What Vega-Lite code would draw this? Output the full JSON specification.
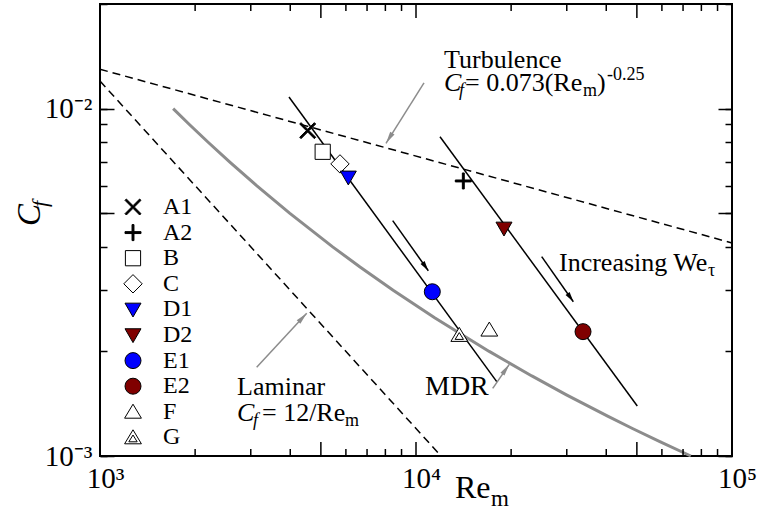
{
  "$schema": "https://vega.github.io/schema/vega-lite/v6.json",
  "width": 632,
  "height": 452,
  "autosize": "none",
  "padding": {"left": 100, "top": 4, "right": 30, "bottom": 61},
  "background": "white",
  "config": {
    "view": {"stroke": "black", "strokeWidth": 2},
    "font": "Liberation Serif"
  },
  "datasets": {
    "pts": [
      {"id": "A1", "Re": 4542, "Cf": 0.00864},
      {"id": "A2", "Re": 14116, "Cf": 0.00619},
      {"id": "B", "Re": 5067, "Cf": 0.00751},
      {"id": "C", "Re": 5747, "Cf": 0.00693},
      {"id": "D1", "Re": 6107, "Cf": 0.00634},
      {"id": "D2", "Re": 18988, "Cf": 0.00452},
      {"id": "E1", "Re": 11262, "Cf": 0.00297},
      {"id": "E2", "Re": 33770, "Cf": 0.00228},
      {"id": "F", "Re": 17060, "Cf": 0.00231},
      {"id": "G", "Re": 13709, "Cf": 0.00223}
    ],
    "ref": [
      {"curve": "turb", "Re": 1000, "Cf": 0.01298},
      {"curve": "turb", "Re": 100000, "Cf": 0.004105},
      {"curve": "lam", "Re": 1000, "Cf": 0.012},
      {"curve": "lam", "Re": 12000, "Cf": 0.001}
    ],
    "fits": [
      {"run": "1", "Re": 3963, "Cf": 0.0108},
      {"run": "1", "Re": 18008, "Cf": 0.001637},
      {"run": "2", "Re": 11911, "Cf": 0.008298},
      {"run": "2", "Re": 50150, "Cf": 0.001393}
    ],
    "mdr": [
      {"Re": 1704, "Cf": 0.01}, {"Re": 1918, "Cf": 0.009}, {"Re": 2199, "Cf": 0.008},
      {"Re": 2581, "Cf": 0.007}, {"Re": 3131, "Cf": 0.006}, {"Re": 3981, "Cf": 0.005},
      {"Re": 5449, "Cf": 0.004}, {"Re": 6651, "Cf": 0.0035}, {"Re": 8466, "Cf": 0.003},
      {"Re": 11455, "Cf": 0.0025}, {"Re": 17048, "Cf": 0.002}, {"Re": 23256, "Cf": 0.0017},
      {"Re": 29928, "Cf": 0.0015}, {"Re": 40554, "Cf": 0.0013}, {"Re": 48417, "Cf": 0.0012},
      {"Re": 59102, "Cf": 0.0011}, {"Re": 74070, "Cf": 0.001}
    ],
    "xticks": [
      {"Re": 1000, "kind": "major"}, {"Re": 2000, "kind": "minor"}, {"Re": 3000, "kind": "minor"},
      {"Re": 4000, "kind": "minor"}, {"Re": 5000, "kind": "major"}, {"Re": 6000, "kind": "minor"},
      {"Re": 7000, "kind": "minor"}, {"Re": 8000, "kind": "minor"}, {"Re": 9000, "kind": "minor"},
      {"Re": 10000, "kind": "major"}, {"Re": 20000, "kind": "minor"}, {"Re": 30000, "kind": "minor"},
      {"Re": 40000, "kind": "minor"}, {"Re": 50000, "kind": "major"}, {"Re": 60000, "kind": "minor"},
      {"Re": 70000, "kind": "minor"}, {"Re": 80000, "kind": "minor"}, {"Re": 90000, "kind": "minor"},
      {"Re": 100000, "kind": "major"}
    ],
    "arrows": [
      {"arrow": "inc1", "pt": "tail", "Re": 8438, "Cf": 0.004757},
      {"arrow": "inc1", "pt": "tip", "Re": 10939, "Cf": 0.003415},
      {"arrow": "inc2", "pt": "tail", "Re": 24990, "Cf": 0.003748},
      {"arrow": "inc2", "pt": "tip", "Re": 31470, "Cf": 0.00278},
      {"arrow": "turb", "pt": "tail", "Re": 10600, "Cf": 0.01185},
      {"arrow": "turb", "pt": "tip", "Re": 8036, "Cf": 0.007945},
      {"arrow": "lam", "pt": "tail", "Re": 3132, "Cf": 0.0018},
      {"arrow": "lam", "pt": "tip", "Re": 4510, "Cf": 0.002575},
      {"arrow": "mdr", "pt": "tail", "Re": 17488, "Cf": 0.001566},
      {"arrow": "mdr", "pt": "tip", "Re": 19740, "Cf": 0.001836}
    ],
    "text": [
      {"part": "main", "t": "Turbulence", "Re": 12264, "Cf": 0.01308},
      {"part": "it", "t": "C", "Re": 12264, "Cf": 0.011236},
      {"part": "itsub", "t": "f", "Re": 13680, "Cf": 0.01087},
      {"part": "main", "t": "= 0.073(Re", "Re": 14291, "Cf": 0.011236},
      {"part": "sub", "t": "m", "Re": 33770, "Cf": 0.01087},
      {"part": "main", "t": ")", "Re": 37390, "Cf": 0.011236},
      {"part": "sup", "t": "-0.25", "Re": 40220, "Cf": 0.01209},
      {"part": "main", "t": "Laminar", "Re": 2714, "Cf": 0.001498},
      {"part": "it", "t": "C", "Re": 2714, "Cf": 0.001261},
      {"part": "itsub", "t": "f", "Re": 3049, "Cf": 0.00122},
      {"part": "main", "t": "= 12/Re", "Re": 3255, "Cf": 0.001261},
      {"part": "sub", "t": "m", "Re": 5962, "Cf": 0.00122},
      {"part": "main", "t": "Increasing We", "Re": 28350, "Cf": 0.003408},
      {"part": "sub", "t": "τ", "Re": 83950, "Cf": 0.003297},
      {"part": "big", "t": "MDR", "Re": 10678, "Cf": 0.001498},
      {"part": "xtitle", "t": "Re", "Re": 13285, "Cf": 0.000757},
      {"part": "xsub", "t": "m", "Re": 17270, "Cf": 0.000718},
      {"part": "ytitle", "t": "C", "Re": 645.6, "Cf": 0.004592},
      {"part": "ysub", "t": "f", "Re": 679.6, "Cf": 0.005208}
    ]
  },
  "layer": [
    {
      "data": {"name": "mdr"},
      "mark": {"type": "line", "color": "#8c8c8c", "strokeWidth": 3},
      "encoding": {
        "x": {"field": "Re", "type": "quantitative", "scale": {"type": "log", "domain": [1000, 100000], "nice": false},
          "axis": {"orient": "bottom", "values": [1000, 10000, 100000], "domain": false, "grid": false, "ticks": false, "title": null,
            "labelExpr": "datum.value == 1000 ? '10³' : datum.value == 10000 ? '10⁴' : '10⁵'",
            "labelFont": "Liberation Serif", "labelFontSize": 29, "labelColor": "black", "labelPadding": 8, "labelOffset": 5,
            "labelBaseline": "top", "labelFlush": false, "labelOverlap": false, "labelBound": false}},
        "y": {"field": "Cf", "type": "quantitative", "scale": {"type": "log", "domain": [0.001, 0.02], "nice": false},
          "axis": {"orient": "left", "values": [0.001, 0.01], "domain": false, "grid": false, "ticks": false, "title": null,
            "labelExpr": "datum.value == 0.001 ? '10⁻³' : '10⁻²'",
            "labelFont": "Liberation Serif", "labelFontSize": 29, "labelColor": "black", "labelPadding": 8,
            "labelFlush": false, "labelOverlap": false, "labelBound": false}}
      }
    },
    {
      "data": {"name": "ref"},
      "mark": {"type": "line", "color": "black", "strokeWidth": 1.5, "strokeDash": [8, 5]},
      "encoding": {
        "x": {"field": "Re", "type": "quantitative", "scale": {"type": "log", "domain": [1000, 100000], "nice": false}, "axis": null},
        "y": {"field": "Cf", "type": "quantitative", "scale": {"type": "log", "domain": [0.001, 0.02], "nice": false},
          "axis": {"orient": "left", "offset": -7, "tickSize": 7, "values": [0.001,0.002,0.003,0.004,0.005,0.006,0.007,0.008,0.009,0.01,0.02],
            "domain": false, "grid": false, "labels": false, "title": null, "tickColor": "black", "tickWidth": 1.5}},
        "detail": {"field": "curve"}
      }
    },
    {
      "data": {"name": "fits"},
      "mark": {"type": "line", "color": "black", "strokeWidth": 1.5},
      "encoding": {
        "x": {"field": "Re", "type": "quantitative", "scale": {"type": "log", "domain": [1000, 100000], "nice": false}, "axis": null},
        "y": {"field": "Cf", "type": "quantitative", "scale": {"type": "log", "domain": [0.001, 0.02], "nice": false},
          "axis": {"orient": "left", "offset": -14, "tickSize": 14, "values": [0.001, 0.005, 0.01],
            "domain": false, "grid": false, "labels": false, "title": null, "tickColor": "black", "tickWidth": 1.5}},
        "detail": {"field": "run"}
      }
    },
    {
      "data": {"name": "arrows"},
      "transform": [{"filter": "datum.arrow == 'inc1' || datum.arrow == 'inc2'"}],
      "mark": {"type": "line", "color": "black", "strokeWidth": 1.5},
      "encoding": {
        "x": {"field": "Re", "type": "quantitative", "scale": {"type": "log", "domain": [1000, 100000], "nice": false}, "axis": null},
        "y": {"field": "Cf", "type": "quantitative", "scale": {"type": "log", "domain": [0.001, 0.02], "nice": false},
          "axis": {"orient": "right", "offset": -7, "tickSize": 7, "values": [0.001,0.002,0.003,0.004,0.005,0.006,0.007,0.008,0.009,0.01,0.02],
            "domain": false, "grid": false, "labels": false, "title": null, "tickColor": "black", "tickWidth": 1.5}},
        "detail": {"field": "arrow"}
      }
    },
    {
      "data": {"name": "arrows"},
      "transform": [{"filter": "datum.arrow == 'turb' || datum.arrow == 'lam' || datum.arrow == 'mdr'"}],
      "mark": {"type": "line", "color": "#8c8c8c", "strokeWidth": 1.5},
      "encoding": {
        "x": {"field": "Re", "type": "quantitative", "scale": {"type": "log", "domain": [1000, 100000], "nice": false}, "axis": null},
        "y": {"field": "Cf", "type": "quantitative", "scale": {"type": "log", "domain": [0.001, 0.02], "nice": false},
          "axis": {"orient": "right", "offset": -14, "tickSize": 14, "values": [0.001, 0.005, 0.01],
            "domain": false, "grid": false, "labels": false, "title": null, "tickColor": "black", "tickWidth": 1.5}},
        "detail": {"field": "arrow"}
      }
    },
    {
      "data": {"name": "xticks"},
      "transform": [{"filter": "datum.kind == 'minor'"}],
      "mark": {"type": "rule", "color": "black", "strokeWidth": 1.5, "opacity": 1},
      "encoding": {
        "x": {"field": "Re", "type": "quantitative", "scale": {"type": "log", "domain": [1000, 100000], "nice": false}, "axis": null},
        "y": {"datum": 0.001, "type": "quantitative", "scale": {"type": "log", "domain": [0.001, 0.02], "nice": false}, "axis": null},
        "y2": {"datum": 0.0010475}
      }
    },
    {
      "data": {"name": "xticks"},
      "transform": [{"filter": "datum.kind == 'major'"}],
      "mark": {"type": "rule", "color": "black", "strokeWidth": 1.5, "opacity": 1},
      "encoding": {
        "x": {"field": "Re", "type": "quantitative", "scale": {"type": "log", "domain": [1000, 100000], "nice": false}, "axis": null},
        "y": {"datum": 0.001, "type": "quantitative", "scale": {"type": "log", "domain": [0.001, 0.02], "nice": false}, "axis": null},
        "y2": {"datum": 0.0010972}
      }
    },
    {
      "data": {"name": "xticks"},
      "transform": [{"filter": "datum.kind == 'minor'"}],
      "mark": {"type": "rule", "color": "black", "strokeWidth": 1.5, "opacity": 1},
      "encoding": {
        "x": {"field": "Re", "type": "quantitative", "scale": {"type": "log", "domain": [1000, 100000], "nice": false}, "axis": null},
        "y": {"datum": 0.02, "type": "quantitative", "scale": {"type": "log", "domain": [0.001, 0.02], "nice": false}, "axis": null},
        "y2": {"datum": 0.019093}
      }
    },
    {
      "data": {"name": "xticks"},
      "transform": [{"filter": "datum.kind == 'major'"}],
      "mark": {"type": "rule", "color": "black", "strokeWidth": 1.5, "opacity": 1},
      "encoding": {
        "x": {"field": "Re", "type": "quantitative", "scale": {"type": "log", "domain": [1000, 100000], "nice": false}, "axis": null},
        "y": {"datum": 0.02, "type": "quantitative", "scale": {"type": "log", "domain": [0.001, 0.02], "nice": false}, "axis": null},
        "y2": {"datum": 0.018228}
      }
    },
    {
      "data": {"name": "arrows"},
      "transform": [{"filter": "(datum.arrow == 'inc1' || datum.arrow == 'inc2') && datum.pt == 'tip'"}],
      "mark": {"type": "point", "shape": "M0,0L0.5,2L-0.5,2Z", "size": 100, "angle": 145, "filled": true, "color": "black", "opacity": 1},
      "encoding": {
        "x": {"field": "Re", "type": "quantitative", "scale": {"type": "log", "domain": [1000, 100000], "nice": false}, "axis": null},
        "y": {"field": "Cf", "type": "quantitative", "scale": {"type": "log", "domain": [0.001, 0.02], "nice": false}, "axis": null}
      }
    },
    {
      "data": {"name": "arrows"},
      "transform": [{"filter": "datum.arrow == 'turb' && datum.pt == 'tip'"}],
      "mark": {"type": "point", "shape": "M0,0L0.42,2L-0.42,2Z", "size": 144, "angle": 212, "filled": true, "color": "#8c8c8c", "opacity": 1},
      "encoding": {
        "x": {"field": "Re", "type": "quantitative", "scale": {"type": "log", "domain": [1000, 100000], "nice": false}, "axis": null},
        "y": {"field": "Cf", "type": "quantitative", "scale": {"type": "log", "domain": [0.001, 0.02], "nice": false}, "axis": null}
      }
    },
    {
      "data": {"name": "arrows"},
      "transform": [{"filter": "datum.arrow == 'lam' && datum.pt == 'tip'"}],
      "mark": {"type": "point", "shape": "M0,0L0.42,2L-0.42,2Z", "size": 144, "angle": 43, "filled": true, "color": "#8c8c8c", "opacity": 1},
      "encoding": {
        "x": {"field": "Re", "type": "quantitative", "scale": {"type": "log", "domain": [1000, 100000], "nice": false}, "axis": null},
        "y": {"field": "Cf", "type": "quantitative", "scale": {"type": "log", "domain": [0.001, 0.02], "nice": false}, "axis": null}
      }
    },
    {
      "data": {"name": "arrows"},
      "transform": [{"filter": "datum.arrow == 'mdr' && datum.pt == 'tip'"}],
      "mark": {"type": "point", "shape": "M0,0L0.42,2L-0.42,2Z", "size": 144, "angle": 35, "filled": true, "color": "#8c8c8c", "opacity": 1},
      "encoding": {
        "x": {"field": "Re", "type": "quantitative", "scale": {"type": "log", "domain": [1000, 100000], "nice": false}, "axis": null},
        "y": {"field": "Cf", "type": "quantitative", "scale": {"type": "log", "domain": [0.001, 0.02], "nice": false}, "axis": null}
      }
    },
    {
      "data": {"name": "pts"},
      "mark": {"type": "point", "filled": true, "strokeWidth": 1, "size": 256, "opacity": 1},
      "encoding": {
        "x": {"field": "Re", "type": "quantitative", "scale": {"type": "log", "domain": [1000, 100000], "nice": false}, "axis": null},
        "y": {"field": "Cf", "type": "quantitative", "scale": {"type": "log", "domain": [0.001, 0.02], "nice": false}, "axis": null},
        "shape": {"field": "id", "type": "nominal",
          "scale": {"domain": ["A1","A2","B","C","D1","D2","E1","E2","F","G"],
            "range": [
              "M0,-0.17L0.83,-1L1,-0.83L0.17,0L1,0.83L0.83,1L0,0.17L-0.83,1L-1,0.83L-0.17,0L-1,-0.83L-0.83,-1Z",
              "M-0.12,-1L0.12,-1L0.12,-0.12L1,-0.12L1,0.12L0.12,0.12L0.12,1L-0.12,1L-0.12,0.12L-1,0.12L-1,-0.12L-0.12,-0.12Z",
              "M-0.95,-0.95L0.95,-0.95L0.95,0.95L-0.95,0.95Z",
              "M0,-1.15L1.15,0L0,1.15L-1.15,0Z",
              "M-1,-0.78L1,-0.78L0,0.95Z",
              "M-1,-0.78L1,-0.78L0,0.95Z",
              "circle",
              "circle",
              "M0,-0.95L1.05,0.8L-1.05,0.8Z",
              "M0,-0.95L1.05,0.8L-1.05,0.8ZM0,-0.3L0.52,0.55L-0.52,0.55Z"
            ]},
          "legend": {"title": null, "orient": "none", "legendX": 21, "legendY": 191, "padding": 0, "rowPadding": 1.6,
            "labelFont": "Liberation Serif", "labelFontSize": 24, "labelColor": "black", "labelOffset": 18, "labelLimit": 0,
            "symbolStrokeWidth": 1, "symbolSize": 256}},
        "fill": {"field": "id", "type": "nominal",
          "scale": {"domain": ["A1","A2","B","C","D1","D2","E1","E2","F","G"],
            "range": ["black","black","white","white","#0000ff","#800000","#0000ff","#800000","white","white"]},
          "legend": {"title": null, "orient": "none", "legendX": 21, "legendY": 191, "padding": 0, "rowPadding": 1.6,
            "labelFont": "Liberation Serif", "labelFontSize": 24, "labelColor": "black", "labelOffset": 18, "labelLimit": 0,
            "symbolStrokeWidth": 1, "symbolSize": 256}},
        "stroke": {"field": "id", "type": "nominal",
          "scale": {"domain": ["A1","A2","B","C","D1","D2","E1","E2","F","G"],
            "range": ["black","black","black","black","black","black","black","black","black","black"]},
          "legend": {"title": null, "orient": "none", "legendX": 21, "legendY": 191, "padding": 0, "rowPadding": 1.6,
            "labelFont": "Liberation Serif", "labelFontSize": 24, "labelColor": "black", "labelOffset": 18, "labelLimit": 0,
            "symbolStrokeWidth": 1, "symbolSize": 256}}
      }
    },
    {
      "data": {"name": "text"},
      "transform": [{"filter": "datum.part == 'main'"}],
      "mark": {"type": "text", "align": "left", "baseline": "alphabetic", "font": "Liberation Serif", "fontSize": 26, "color": "black"},
      "encoding": {
        "x": {"field": "Re", "type": "quantitative", "scale": {"type": "log", "domain": [1000, 100000], "nice": false}, "axis": null},
        "y": {"field": "Cf", "type": "quantitative", "scale": {"type": "log", "domain": [0.001, 0.02], "nice": false}, "axis": null},
        "text": {"field": "t"}
      }
    },
    {
      "data": {"name": "text"},
      "transform": [{"filter": "datum.part == 'it'"}],
      "mark": {"type": "text", "align": "left", "baseline": "alphabetic", "font": "Liberation Serif", "fontSize": 26, "fontStyle": "italic", "color": "black"},
      "encoding": {
        "x": {"field": "Re", "type": "quantitative", "scale": {"type": "log", "domain": [1000, 100000], "nice": false}, "axis": null},
        "y": {"field": "Cf", "type": "quantitative", "scale": {"type": "log", "domain": [0.001, 0.02], "nice": false}, "axis": null},
        "text": {"field": "t"}
      }
    },
    {
      "data": {"name": "text"},
      "transform": [{"filter": "datum.part == 'itsub'"}],
      "mark": {"type": "text", "align": "left", "baseline": "alphabetic", "font": "Liberation Serif", "fontSize": 18, "fontStyle": "italic", "color": "black"},
      "encoding": {
        "x": {"field": "Re", "type": "quantitative", "scale": {"type": "log", "domain": [1000, 100000], "nice": false}, "axis": null},
        "y": {"field": "Cf", "type": "quantitative", "scale": {"type": "log", "domain": [0.001, 0.02], "nice": false}, "axis": null},
        "text": {"field": "t"}
      }
    },
    {
      "data": {"name": "text"},
      "transform": [{"filter": "datum.part == 'sub' || datum.part == 'sup'"}],
      "mark": {"type": "text", "align": "left", "baseline": "alphabetic", "font": "Liberation Serif", "fontSize": 18, "color": "black"},
      "encoding": {
        "x": {"field": "Re", "type": "quantitative", "scale": {"type": "log", "domain": [1000, 100000], "nice": false}, "axis": null},
        "y": {"field": "Cf", "type": "quantitative", "scale": {"type": "log", "domain": [0.001, 0.02], "nice": false}, "axis": null},
        "text": {"field": "t"}
      }
    },
    {
      "data": {"name": "text"},
      "transform": [{"filter": "datum.part == 'big'"}],
      "mark": {"type": "text", "align": "left", "baseline": "alphabetic", "font": "Liberation Serif", "fontSize": 28, "color": "black"},
      "encoding": {
        "x": {"field": "Re", "type": "quantitative", "scale": {"type": "log", "domain": [1000, 100000], "nice": false}, "axis": null},
        "y": {"field": "Cf", "type": "quantitative", "scale": {"type": "log", "domain": [0.001, 0.02], "nice": false}, "axis": null},
        "text": {"field": "t"}
      }
    },
    {
      "data": {"name": "text"},
      "transform": [{"filter": "datum.part == 'xtitle'"}],
      "mark": {"type": "text", "align": "left", "baseline": "alphabetic", "font": "Liberation Serif", "fontSize": 32, "color": "black"},
      "encoding": {
        "x": {"field": "Re", "type": "quantitative", "scale": {"type": "log", "domain": [1000, 100000], "nice": false}, "axis": null},
        "y": {"field": "Cf", "type": "quantitative", "scale": {"type": "log", "domain": [0.001, 0.02], "nice": false}, "axis": null},
        "text": {"field": "t"}
      }
    },
    {
      "data": {"name": "text"},
      "transform": [{"filter": "datum.part == 'xsub'"}],
      "mark": {"type": "text", "align": "left", "baseline": "alphabetic", "font": "Liberation Serif", "fontSize": 23, "color": "black"},
      "encoding": {
        "x": {"field": "Re", "type": "quantitative", "scale": {"type": "log", "domain": [1000, 100000], "nice": false}, "axis": null},
        "y": {"field": "Cf", "type": "quantitative", "scale": {"type": "log", "domain": [0.001, 0.02], "nice": false}, "axis": null},
        "text": {"field": "t"}
      }
    },
    {
      "data": {"name": "text"},
      "transform": [{"filter": "datum.part == 'ytitle'"}],
      "mark": {"type": "text", "align": "left", "baseline": "alphabetic", "font": "Liberation Serif", "fontSize": 33, "fontStyle": "italic", "angle": 270, "color": "black"},
      "encoding": {
        "x": {"field": "Re", "type": "quantitative", "scale": {"type": "log", "domain": [1000, 100000], "nice": false}, "axis": null},
        "y": {"field": "Cf", "type": "quantitative", "scale": {"type": "log", "domain": [0.001, 0.02], "nice": false}, "axis": null},
        "text": {"field": "t"}
      }
    },
    {
      "data": {"name": "text"},
      "transform": [{"filter": "datum.part == 'ysub'"}],
      "mark": {"type": "text", "align": "left", "baseline": "alphabetic", "font": "Liberation Serif", "fontSize": 22, "fontStyle": "italic", "angle": 270, "color": "black"},
      "encoding": {
        "x": {"field": "Re", "type": "quantitative", "scale": {"type": "log", "domain": [1000, 100000], "nice": false}, "axis": null},
        "y": {"field": "Cf", "type": "quantitative", "scale": {"type": "log", "domain": [0.001, 0.02], "nice": false}, "axis": null},
        "text": {"field": "t"}
      }
    }
  ],
  "resolve": {"axis": {"x": "independent", "y": "independent"}}
}
